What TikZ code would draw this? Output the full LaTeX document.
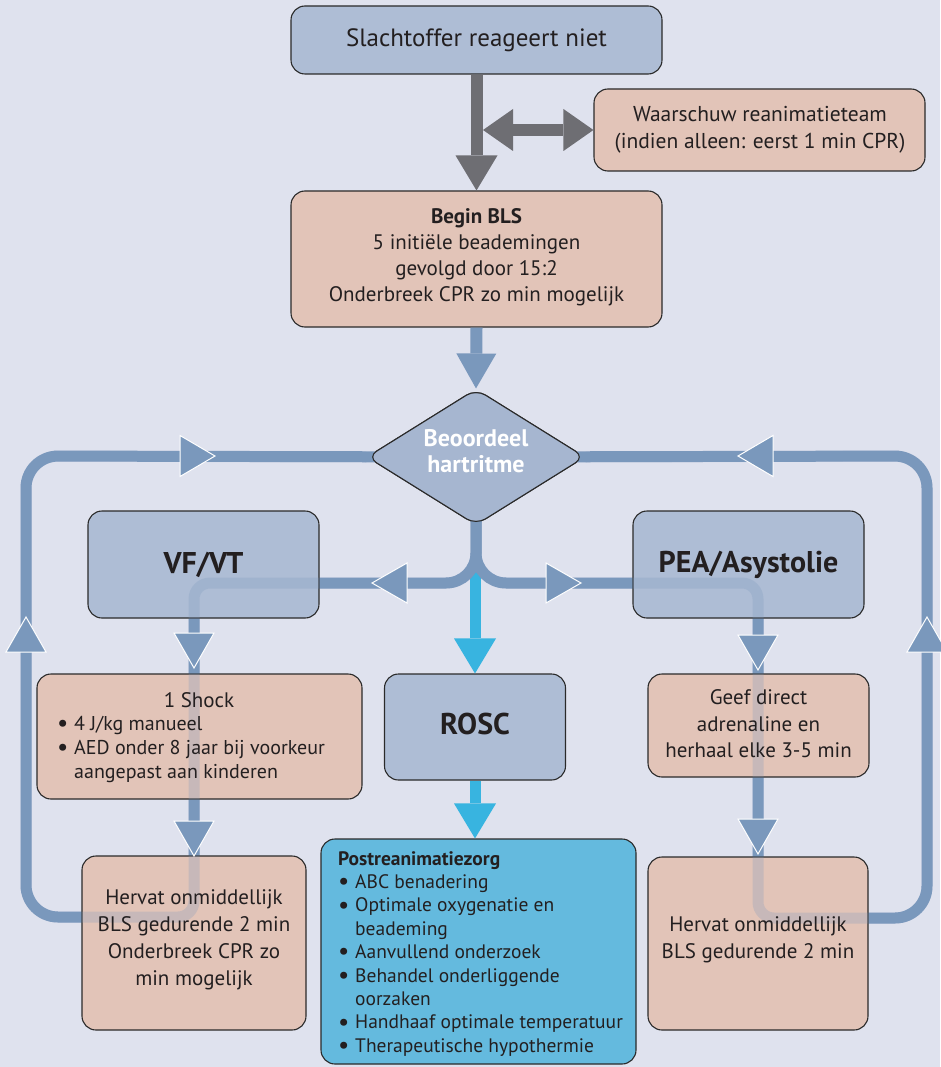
\documentclass[tikz,border=0pt]{standalone}
\usepackage{fontspec}
\setmainfont{PT Sans}
\usetikzlibrary{shapes.geometric,arrows.meta}
\definecolor{bg}{HTML}{DFE2EE}
\definecolor{boxblue}{HTML}{AEBDD5}
\definecolor{peach}{HTML}{E2C4B8}
\definecolor{diamc}{HTML}{A6B6D0}
\definecolor{flowc}{HTML}{7A98BC}
\definecolor{grayc}{HTML}{6E6E73}
\definecolor{cyanc}{HTML}{38B4E0}
\definecolor{postc}{HTML}{64BADE}
\definecolor{ink}{HTML}{231F20}
\definecolor{edge}{HTML}{2A2A2A}
\newcommand\bulit{\makebox[17pt][l]{\smash{\raisebox{-1.2pt}{\fontsize{25}{25}\selectfont\textbullet}}}}
\begin{document}
\begin{tikzpicture}[x=1pt,y=-1pt,
  box/.style={draw=edge, line width=1.1pt, rounded corners=14pt, inner sep=0pt},
  blu/.style={box, fill=boxblue},
  pch/.style={box, fill=peach},
  dia/.style={diamond, draw=edge, line width=1.1pt, fill=diamc, minimum width=218pt, minimum height=136pt, inner sep=0pt, rounded corners=11pt},
  txt/.style={inner sep=0pt, text=ink, align=center, font=\fontsize{21}{26.5}\selectfont},
  big/.style={inner sep=0pt, text=ink, font=\fontsize{30}{36}\selectfont\bfseries},
  flow/.style={draw=flowc, line width=11pt},
  ghost/.style={draw=flowc, line width=11pt, draw opacity=0.25},
  tri/.style={fill=flowc, draw=white, line width=1pt},
  tip/.style={-{Triangle[width=#1,length=35pt,line width=0pt]}},
]
\fill[bg] (0,0) rectangle (940,1067);
\useasboundingbox (0,0) rectangle (940,1067);

% box shapes
\node[blu, minimum width=371pt, minimum height=68pt] (top) at (476.5,40) {};
\node[pch, minimum width=331pt, minimum height=82pt] (warn) at (759.5,130) {};
\node[pch, minimum width=371pt, minimum height=136pt] (bls) at (476.5,259) {};
\node[blu, minimum width=181pt, minimum height=106pt] (rosc) at (475,727) {};
\node[box, fill=postc, minimum width=315pt, minimum height=225pt] (post) at (478.5,951.5) {};

% gray arrows
\coordinate (dbl) at (483,130);
\draw[grayc, line width=12pt, tip=42pt] (top.south) -- (bls.north);
\draw[grayc, line width=12pt, {Triangle[width=42pt,length=30pt,line width=0pt]}-{Triangle[width=42pt,length=30pt,line width=0pt]}] (dbl) -- (warn.west);

% cyan arrows
\coordinate (cy) at (475,560);
\draw[cyanc, line width=11pt, tip=42pt] (cy) -- (rosc.north);
\draw[cyanc, line width=11pt, tip=42pt] (rosc.south) -- (rosc.south |- post.north);

% diamond (named), loops, then diamond redrawn on top
\node[dia] (diam) at (476,457) {};
\draw[flow] (diam.center) [rounded corners=30pt] -- (476,583) [rounded corners=16pt] -- (194,583) -- (194,917) [rounded corners=32pt] -- (26,917) -- (26,456) -- (diam.center);
\draw[flow] (diam.center) [rounded corners=30pt] -- (476,583) [rounded corners=16pt] -- (758,583) -- (758,918) [rounded corners=32pt] -- (927,918) -- (927,456) -- (diam.center);
\node[dia] at (diam) {};
\draw[flowc, line width=12pt, tip=40pt] (bls.south) -- (diam.north);

% boxes crossed by loops
\node[blu, minimum width=231pt, minimum height=107pt] (vf) at (203.5,564.5) {};
\node[blu, minimum width=231pt, minimum height=107pt] (pea) at (748.5,564.5) {};
\node[pch, minimum width=325pt, minimum height=125pt] (shock) at (199.5,736.5) {};
\node[pch, minimum width=221pt, minimum height=103pt] (geef) at (758.5,725.5) {};
\node[pch, minimum width=224pt, minimum height=174pt] (herL) at (194,943) {};
\node[pch, minimum width=220pt, minimum height=173pt] (herR) at (758,943.5) {};
\draw[ghost] (476,560) [rounded corners=30pt] -- (476,583) [rounded corners=16pt] -- (194,583) -- (194,917) [rounded corners=32pt] -- (26,917) -- (26,456) -- (diam.west);
\draw[ghost] (476,560) [rounded corners=30pt] -- (476,583) [rounded corners=16pt] -- (758,583) -- (758,918) [rounded corners=32pt] -- (927,918) -- (927,456) -- (diam.east);

% triangles
\fill[tri] (180,435.5) -- (215,456) -- (180,476.5) -- cycle;
\fill[tri] (773,435.5) -- (738,456) -- (773,476.5) -- cycle;
\fill[tri] (6,652) -- (26,617) -- (46,652) -- cycle;
\fill[tri] (907,652) -- (927,617) -- (947,652) -- cycle;
\fill[tri] (407,563) -- (372,583) -- (407,603) -- cycle;
\fill[tri] (546,563) -- (581,583) -- (546,603) -- cycle;
\fill[tri] (174,633) -- (194,668) -- (214,633) -- cycle;
\fill[tri] (174,821) -- (194,856) -- (214,821) -- cycle;
\fill[tri] (738,635) -- (758,670) -- (778,635) -- cycle;
\fill[tri] (738,819) -- (758,854) -- (778,819) -- cycle;

% texts
\node[txt, font=\fontsize{25}{30}\selectfont] (topT) at (top.center) {Slachtoffer reageert niet};
\node[txt, font=\fontsize{21.5}{26.5}\selectfont] (warnT) at (760,130) {Waarschuw reanimatieteam\\(indien alleen: eerst 1 min CPR)};
\node[txt, font=\fontsize{21}{26}\selectfont] (blsT) at (476.5,257) {\textbf{Begin BLS}\\5 initiële beademingen\\gevolgd door 15:2\\Onderbreek CPR zo min mogelijk};
\node[inner sep=0pt, text=white, align=center, font=\fontsize{24}{26}\selectfont\bfseries] (diamT) at (476,451) {Beoordeel\\hartritme};
\node[big] (vfT) at (vf.center) {VF/VT};
\node[big] (peaT) at (pea.center) {PEA/Asystolie};
\node[big] (roscT) at (475,724) {ROSC};
\node[txt] (shockH) at (199,700) {1 Shock};
\node[txt, anchor=base west, align=left, font=\fontsize{20}{24}\selectfont] (shockL) at (57,730)
  {\begin{tabular}[t]{@{}l@{}}\bulit 4 J/kg manueel\\ \bulit AED onder 8 jaar bij voorkeur\\ \hspace*{17pt}aangepast aan kinderen\end{tabular}};
\node[txt] (geefT) at (758.5,724) {Geef direct\\adrenaline en\\herhaal elke 3-5 min};
\node[txt, font=\fontsize{21}{27}\selectfont] (herLT) at (194,940) {Hervat onmiddellijk\\BLS gedurende 2 min\\Onderbreek CPR zo\\min mogelijk};
\node[txt, font=\fontsize{21}{27}\selectfont] (herRT) at (758,940) {Hervat onmiddellijk\\BLS gedurende 2 min};
\node[txt, anchor=base west, align=left, font=\fontsize{19.5}{23.4}\selectfont] (postL) at (338,865)
  {\begin{tabular}[t]{@{}l@{}}\textbf{Postreanimatiezorg}\\ \bulit ABC benadering\\ \bulit Optimale oxygenatie en\\ \hspace*{17pt}beademing\\ \bulit Aanvullend onderzoek\\ \bulit Behandel onderliggende\\ \hspace*{17pt}oorzaken\\ \bulit Handhaaf optimale temperatuur\\ \bulit Therapeutische hypothermie\end{tabular}};
\end{tikzpicture}
\end{document}
